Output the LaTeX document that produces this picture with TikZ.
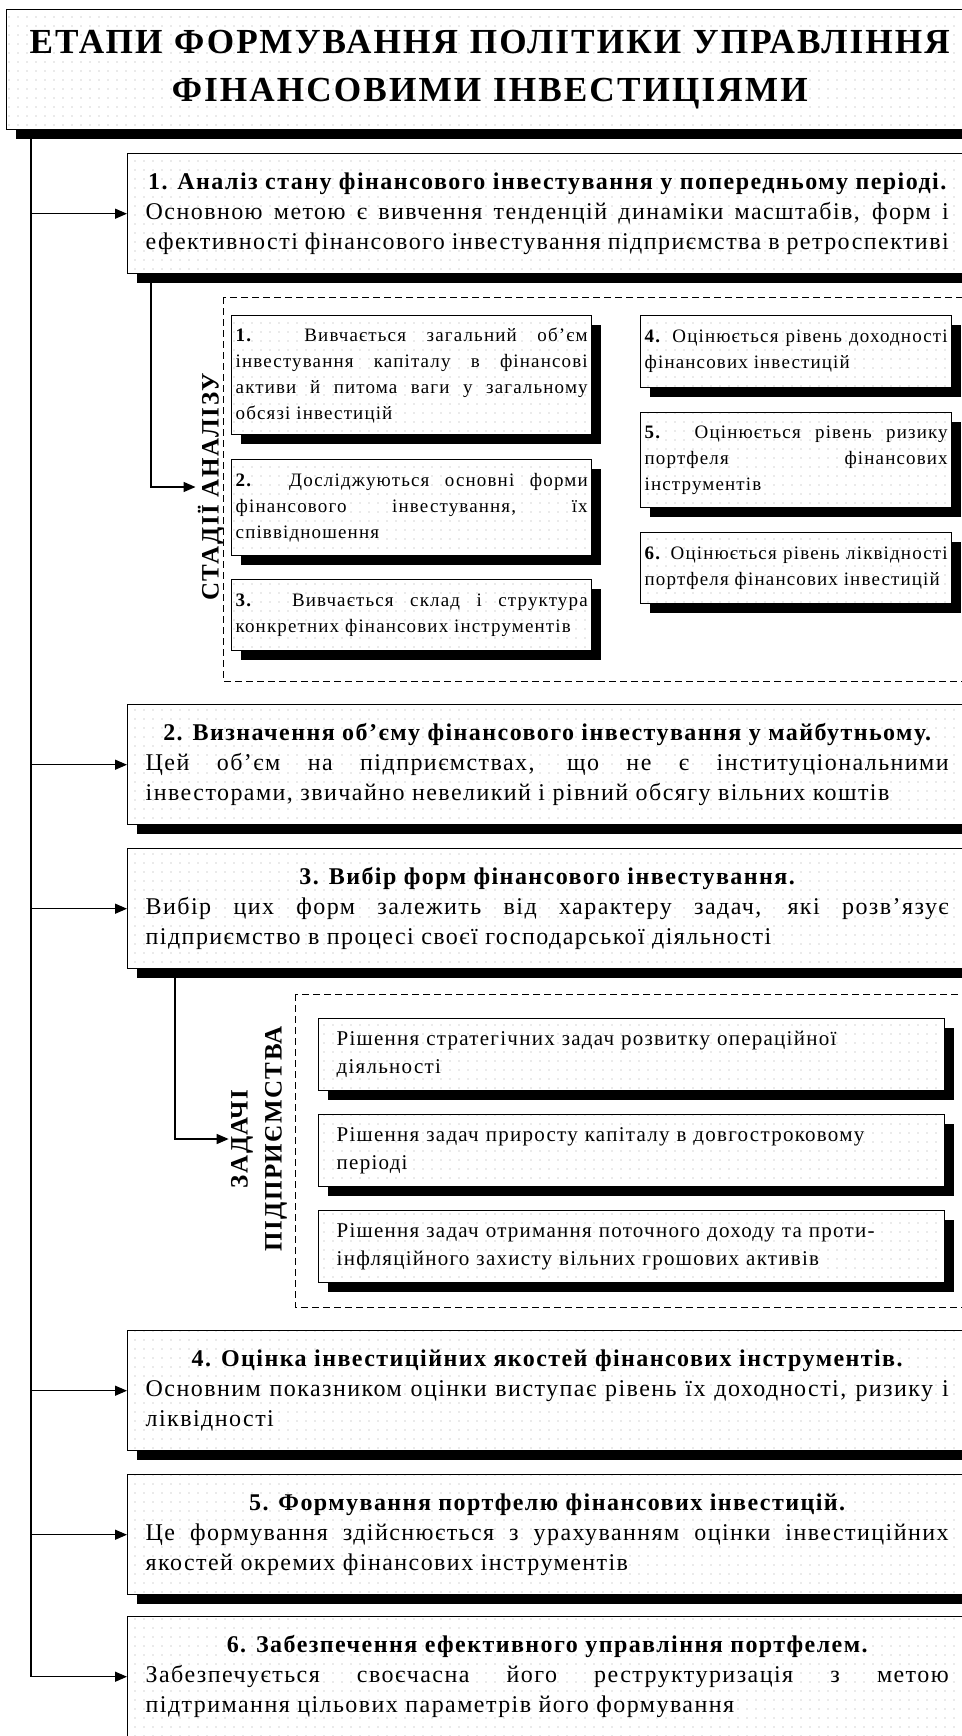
\documentclass[tikz,border=0pt]{standalone}
\usepackage{fontspec}
\setmainfont{Liberation Serif}
\newfontfamily\widefont[LetterSpace=6]{Liberation Serif}
\usepackage{tikz}
\usetikzlibrary{arrows.meta,shadows,patterns.meta}
\tikzset{>/.tip={Triangle[length=6pt,width=5pt]},
  dotfill/.style={preaction={fill=white}, pattern={Dots[distance=4.5pt,radius=0.3pt]}, pattern color=black!35},
  boxshadow/.style={drop shadow={shadow xshift=4.5pt,shadow yshift=-4.5pt,fill=black,opacity=1}},
  titlebox/.style={draw, line width=0.7pt, boxshadow, dotfill, anchor=north west, text width=475pt, inner xsep=4pt, minimum height=60pt, align=center, font=\widefont\fontsize{17.6}{24}\selectfont\bfseries},
  stagebox/.style={draw, line width=0.7pt, boxshadow, dotfill, anchor=north west, text width=401.5pt, inner xsep=9pt, minimum height=60pt, align=justify, font=\widefont\fontsize{12}{15}\selectfont},
  stepbox/.style={draw, line width=0.7pt, boxshadow, dotfill, anchor=north west, inner xsep=2pt, align=justify, font=\widefont\fontsize{9.5}{13}\selectfont},
  taskbox/.style={draw, line width=0.7pt, boxshadow, dotfill, anchor=north west, text width=295pt, inner xsep=9pt, minimum height=36pt, align=left, font=\widefont\fontsize{10.5}{14}\selectfont},
  sidelabel/.style={rotate=90, align=center, inner sep=1pt, font=\widefont\fontsize{12.5}{17}\selectfont\bfseries},
  frame/.style={dash pattern=on 3.5pt off 2pt, line width=0.5pt},
  link/.style={->, line width=0.7pt}}
\newcommand{\stagehead}[1]{\makebox[\linewidth]{\bfseries #1}\par}
\hyphenpenalty=10000
\exhyphenpenalty=10000

\begin{document}
\begin{tikzpicture}[x=0.5pt,y=-0.5pt]
\useasboundingbox (0,0) rectangle (962,1736);

\node[titlebox] (title) at (6,9) {\makebox[\linewidth]{ЕТАПИ ФОРМУВАННЯ ПОЛІТИКИ УПРАВЛІННЯ}\\ФІНАНСОВИМИ ІНВЕСТИЦІЯМИ};

\node[stagebox] (stage1) at (127,153) {\stagehead{1. Аналіз стану фінансового інвестування у попередньому періоді.}
Основною метою є вивчення тенденцій динаміки масштабів, форм і\linebreak ефективності фінансового інвестування підприємства в ретроспективі};

\draw[frame] (223,297) rectangle (990,681);
\node[sidelabel] (stages) at (211,487) {СТАДІЇ АНАЛІЗУ};
\node[stepbox, text width=176pt, minimum height=59.5pt] (step1) at (231,315) {\textbf{1.} Вивчається загальний об’єм\linebreak інвестування капіталу в фінансові\linebreak активи й питома ваги у загальному\linebreak обсязі інвестицій};
\node[stepbox, text width=176pt, minimum height=48pt] (step2) at (231,459) {\textbf{2.} Досліджуються основні форми\linebreak фінансового інвестування, їх\linebreak співвідношення};
\node[stepbox, text width=176pt, minimum height=35.5pt] (step3) at (231,579) {\textbf{3.} Вивчається склад і структура\linebreak конкретних фінансових інструментів};
\node[stepbox, text width=151.5pt, minimum height=36pt] (step4) at (640,315) {\textbf{4.} Оцінюється рівень доходності\linebreak фінансових інвестицій};
\node[stepbox, text width=151.5pt, minimum height=47.5pt] (step5) at (640,412) {\textbf{5.} Оцінюється рівень ризику\linebreak портфеля фінансових\linebreak інструментів};
\node[stepbox, text width=151.5pt, minimum height=35.5pt] (step6) at (640,532) {\textbf{6.} Оцінюється рівень ліквідності\linebreak портфеля фінансових інвестицій};

\node[stagebox] (stage2) at (127,704) {\stagehead{2. Визначення об’єму фінансового інвестування у майбутньому.}
Цей об’єм на підприємствах, що не є інституціональними\linebreak інвесторами, звичайно невеликий і рівний обсягу вільних коштів};

\node[stagebox] (stage3) at (127,848) {\stagehead{3. Вибір форм фінансового інвестування.}
Вибір цих форм залежить від характеру задач, які розв’язує\linebreak підприємство в процесі своєї господарської діяльності};

\draw[frame] (295,994) rectangle (990,1307);
\node[sidelabel] (tasks) at (259,1139) {ЗАДАЧІ\\ПІДПРИЄМСТВА};
\node[taskbox] (task1) at (318,1018) {Рішення стратегічних задач розвитку операційної\\діяльності};
\node[taskbox] (task2) at (318,1114) {Рішення задач приросту капіталу в довгостроковому\\періоді};
\node[taskbox] (task3) at (318,1210) {Рішення задач отримання поточного доходу та проти-\\інфляційного захисту вільних грошових активів};

\node[stagebox] (stage4) at (127,1330) {\stagehead{4. Оцінка інвестиційних якостей фінансових інструментів.}
Основним показником оцінки виступає рівень їх доходності, ризику і\linebreak ліквідності};

\node[stagebox] (stage5) at (127,1474) {\stagehead{5. Формування портфелю фінансових інвестицій.}
Це формування здійснюється з урахуванням оцінки інвестиційних\linebreak якостей окремих фінансових інструментів};

\node[stagebox] (stage6) at (127,1616) {\stagehead{6. Забезпечення ефективного управління портфелем.}
Забезпечується своєчасна його реструктуризація з метою\linebreak підтримання цільових параметрів його формування};

\draw[link] ([xshift=12.5pt]title.south west) |- (stage1.west);
\draw[link] ([xshift=12.5pt]title.south west) |- (stage2.west);
\draw[link] ([xshift=12.5pt]title.south west) |- (stage3.west);
\draw[link] ([xshift=12.5pt]title.south west) |- (stage4.west);
\draw[link] ([xshift=12.5pt]title.south west) |- (stage5.west);
\draw[link] ([xshift=12.5pt]title.south west) |- (stage6.west);
\draw[link] ([xshift=12pt]stage1.south west) |- (stages.north);
\draw[link] ([xshift=24pt]stage3.south west) |- (tasks.north);
\end{tikzpicture}
\end{document}
